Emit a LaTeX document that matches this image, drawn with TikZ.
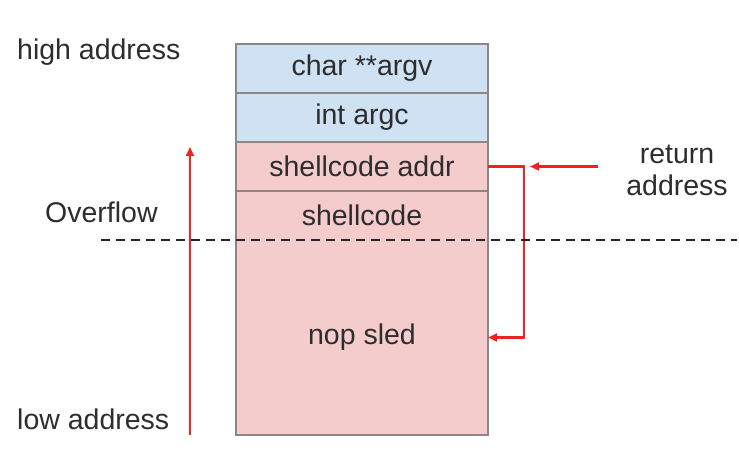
\documentclass[tikz,border=0pt]{standalone}
\usepackage{fontspec}
\setmainfont{Liberation Sans}
\usetikzlibrary{arrows.meta,positioning}
\definecolor{pilebleu}{RGB}{207,226,243}
\definecolor{pilerose}{RGB}{244,204,204}
\definecolor{pilebord}{RGB}{140,135,135}
\definecolor{pilerouge}{RGB}{240,35,35}
\definecolor{piletexte}{RGB}{45,45,45}

\begin{document}
\begin{tikzpicture}[x=1pt, y=-1pt,
  cell/.style={rectangle, draw=pilebord, line width=1.2pt, minimum width=252pt,
    minimum height=49pt, inner sep=0pt, outer sep=0pt,
    font=\fontsize{28.5}{32}\selectfont, text=piletexte},
  arg/.style={cell, fill=pilebleu},
  ovf/.style={cell, fill=pilerose},
  lbl/.style={font=\fontsize{28.5}{32}\selectfont, text=piletexte, inner sep=0pt},
  fl/.style={pilerouge, line width=2.2pt, -{Triangle[length=9pt,width=8pt]}},
  coupe/.style={black!85, line width=2.2pt, dash pattern=on 9pt off 6pt}
]
  \useasboundingbox (0,0) rectangle (739,470);

  % Stack frame
  \node[arg] (argv) at (362,68.5) {char **argv};
  \node[arg, below=0pt of argv] (argc) {int argc};
  \node[ovf, below=0pt of argc] (retaddr) {shellcode addr};
  \node[ovf, draw=none, below=0pt of retaddr] (shell) {shellcode};
  \node[ovf, draw=none, minimum height=195pt, below=0pt of shell] (nop) {nop sled};
  \draw[pilebord, line width=1.2pt] (shell.north west) rectangle (nop.south east);

  % Labels
  \node[lbl, anchor=west] (haut) at (17,52) {high address};
  \node[lbl, anchor=west] (debord) at (45,212) {Overflow};
  \node[lbl, anchor=west] (bas) at (17,419) {low address};
  \node[lbl, align=center] (ret) at (677,170) {return\\address};

  % Arrows
  \coordinate (basfl) at (190,435);
  \coordinate (hautfl) at (190,147);
  \draw[fl] (basfl) -- (hautfl);
  \draw[fl] ([xshift=-28pt]ret.west |- retaddr.east) -- ([xshift=42pt]retaddr.east);
  \draw[fl] (retaddr.east) -- ++(36,0) |- (nop.east);

  % Overflow limit
  \coordinate (coupeg) at (101,240);
  \coordinate (couped) at (737,240);
  \draw[coupe] (coupeg) -- (couped);
\end{tikzpicture}
\end{document}
